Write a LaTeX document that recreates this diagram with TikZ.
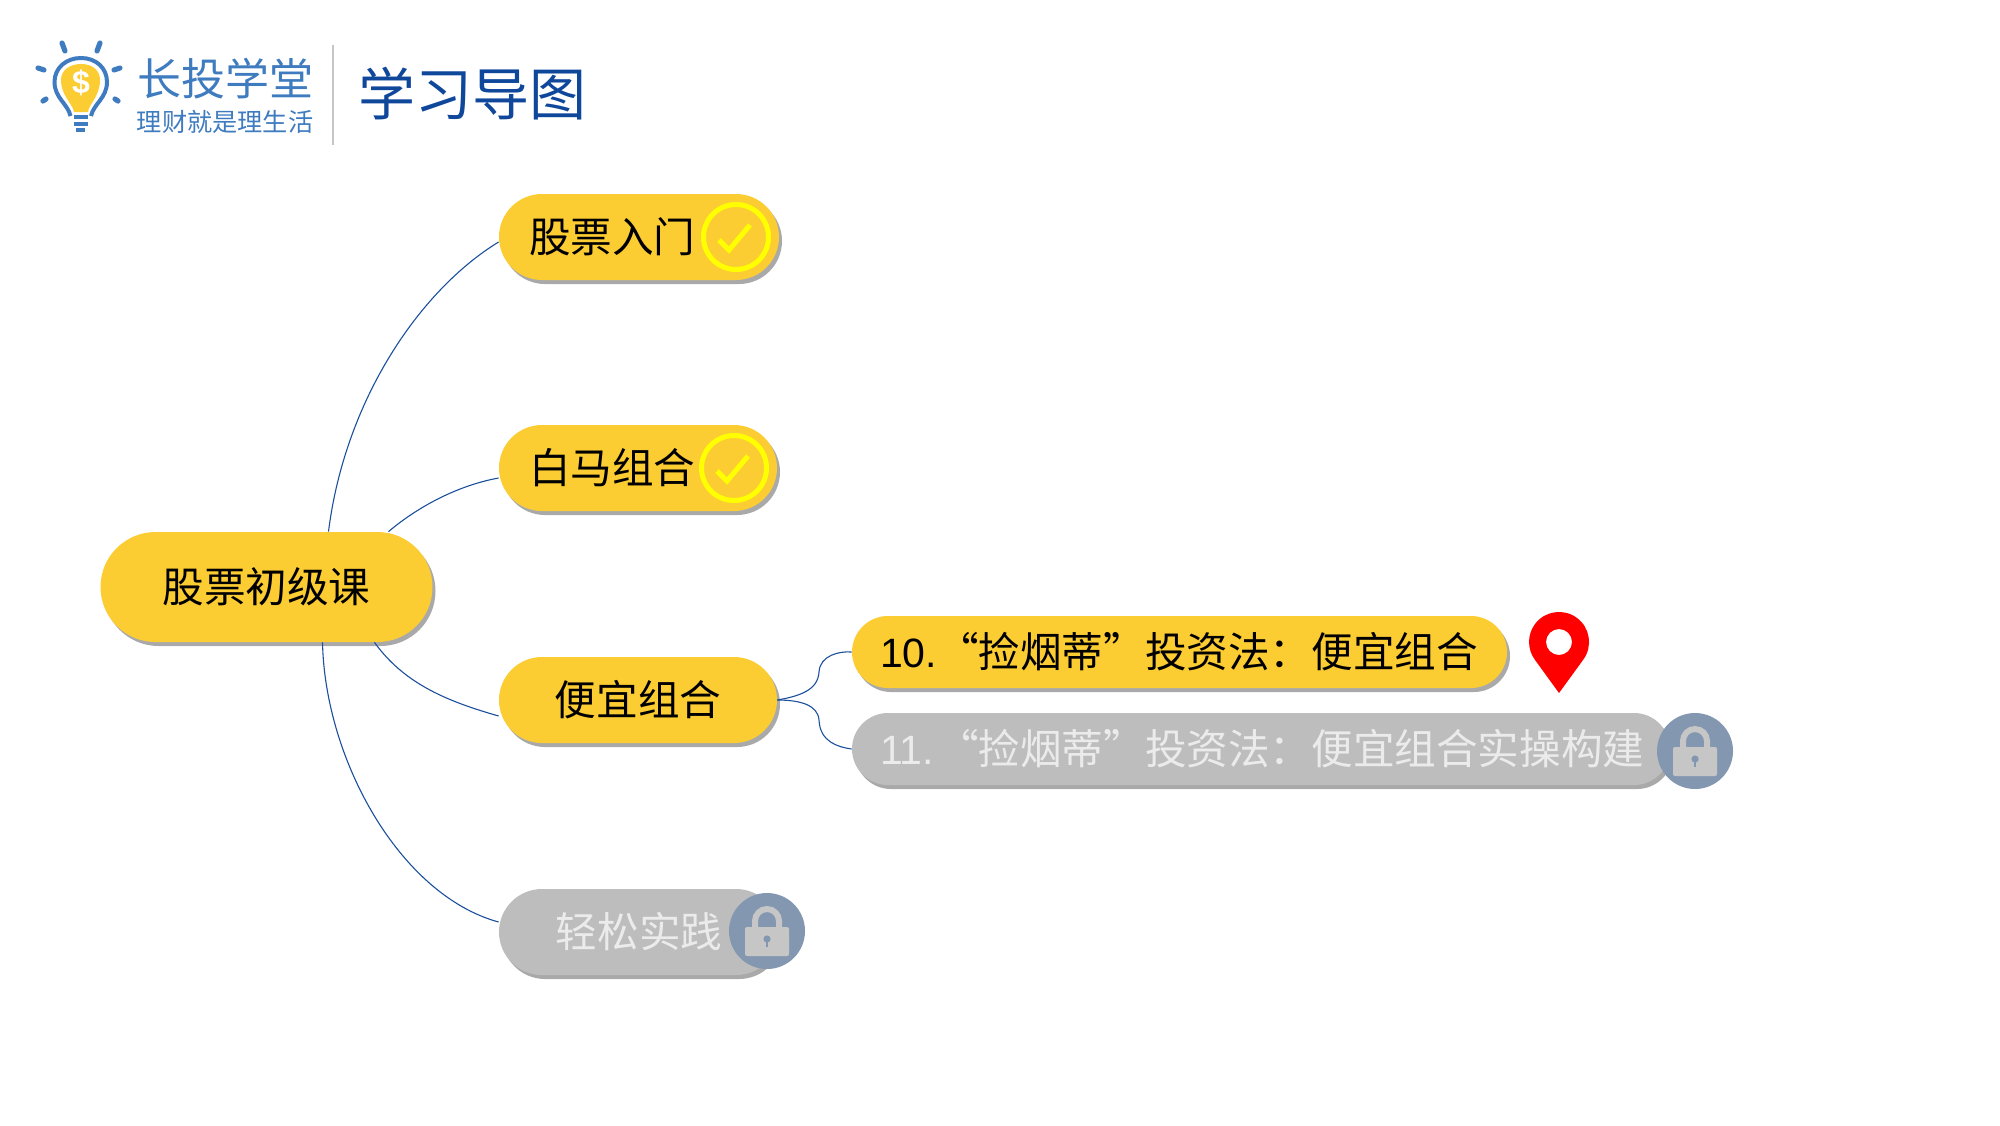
\documentclass[tikz,border=0pt]{standalone}
\usepackage{fontspec}
\setmainfont{Noto Sans CJK SC}
\newfontfamily\latinfont{Liberation Sans}
\usetikzlibrary{shadows}

\definecolor{pillyellow}{HTML}{FCCC33}
\definecolor{pillgray}{HTML}{BDBDBD}
\definecolor{lockblue}{HTML}{8497B0}
\definecolor{lockgray}{HTML}{C6C6C6}
\definecolor{linkblue}{HTML}{1B4F9C}
\definecolor{titleblue}{HTML}{0F479B}
\definecolor{logoblue}{HTML}{3F7BBF}
\definecolor{markyellow}{HTML}{FFFF00}

\tikzset{
    pill/.style={rectangle, rounded corners=21.5pt, minimum height=43pt, inner xsep=15pt,
        inner ysep=0pt, font=\fontsize{20.8}{24}\selectfont,
        drop shadow={shadow xshift=1.5pt, shadow yshift=-2pt, fill=black!80, opacity=0.42}},
    topic/.style={pill, fill=pillyellow, text=black},
    locked/.style={pill, fill=pillgray, text=white!92!black},
    smallpill/.style={minimum height=36pt, rounded corners=18pt},
    rootpill/.style={minimum height=55pt, rounded corners=27.5pt},
    link/.style={draw=linkblue, line width=0.55pt},
    checkring/.style={circle, draw=markyellow, line width=2.5pt, minimum size=32.5pt, inner sep=0pt},
    lockdisc/.style={circle, fill=lockblue, minimum size=38pt, inner sep=0pt},
    logotext/.style={text=logoblue, inner sep=0pt},
    ray/.style={draw=logoblue, line width=2.6pt, line cap=round},
    tickmark/.pic={
        \draw[markyellow, line width=2.5pt] (-17,3) -- (-7,13) -- (14,-12);
    },
    padlock/.pic={
        \draw[lockgray, line width=3pt] (-12,-3) -- (-12,-10) arc (180:360:12) -- (12,-3);
        \fill[lockgray, rounded corners=1pt] (-22,-4) rectangle (22,25);
        \fill[lockblue] (0,8) circle (3.6);
        \fill[lockblue] (-1.2,8) rectangle (1.2,16);
    }
}

\begin{document}
\begin{tikzpicture}[x=0.5pt, y=-0.5pt]
    \useasboundingbox (0,0) rectangle (2000,1125);

    \fill[pillyellow] (74,112) .. controls (73,104) and (61,96) .. (61,80)
        .. controls (61,70) and (70,64) .. (81,64)
        .. controls (92,64) and (100,70) .. (100,80)
        .. controls (100,96) and (89,104) .. (88,112) -- cycle;
    \draw[logoblue, line width=2pt] (70.5,116) .. controls (68,104) and (54.5,98) .. (54.5,82)
        .. controls (54.5,68) and (66,58) .. (81,58)
        .. controls (96,58) and (107,68) .. (107,82)
        .. controls (107,98) and (93.5,104) .. (91,116);
    \node[text=white, inner sep=0pt, font=\latinfont\bfseries\fontsize{16}{18}\selectfont] (dollar) at (81,83) {\$};
    \draw[ray] (62,43) -- (65,51);
    \draw[ray] (100,43) -- (97,51);
    \draw[ray] (38,68) -- (44,70);
    \draw[ray] (120,68) -- (114,70);
    \draw[ray] (43,101) -- (46,99);
    \draw[ray] (118,101) -- (115,99);
    \draw[logoblue, line width=1.6pt] (74,117) -- (88,117);
    \draw[logoblue, line width=1.6pt] (74,124) -- (88,124);
    \draw[logoblue, line width=1.6pt] (76,130) -- (85,130);
    \node[logotext, font=\fontsize{22}{25}\selectfont] (brand) at (225,79) {长投学堂};
    \node[logotext, font=\fontsize{12.6}{15}\selectfont] (slogan) at (225,122) {理财就是理生活};
    \draw[lockgray, line width=0.6pt] (333,45) -- (333,145);
    \node[text=titleblue, inner sep=0pt, font=\fontsize{28.5}{31}\selectfont] (title) at (472,94) {学习导图};

    \node[topic, rootpill, minimum width=166pt] (root) at (266.5,587) {股票初级课};
    \node[topic, minimum width=140pt, text width=110pt, align=left] (intro) at (639,237) {股票入门};
    \node[topic, minimum width=139pt, text width=109pt, align=left] (white-horse) at (638,468) {白马组合};
    \node[topic, minimum width=139pt] (cheap-combo) at (638,700) {便宜组合};
    \node[locked, minimum width=140pt] (practice) at (639,932) {轻松实践};
    \node[topic, smallpill, minimum width=327.5pt, inner xsep=14pt, text width=299.5pt, align=left] (lesson-ten) at (1179.5,652)
        {\mbox{{\latinfont\fontsize{20.5}{24}\selectfont 10.}“捡烟蒂”投资法：便宜组合}};
    \node[locked, smallpill, minimum width=409pt, inner xsep=14pt, text width=381pt, align=left] (lesson-eleven) at (1261,749)
        {\mbox{{\latinfont\fontsize{20.5}{24}\selectfont 11.}\hspace{1.6pt}“捡烟蒂”投资法：便宜组合实操构建}};

    \node[checkring] (intro-check) at (736,237) {};
    \node[checkring] (white-horse-check) at (734,468) {};
    \pic at (intro-check) {tickmark};
    \pic at (white-horse-check) {tickmark};
    \node[lockdisc] (practice-lock) at (767,931) {};
    \node[lockdisc] (lesson-lock) at (1695,751) {};
    \pic at (practice-lock) {padlock};
    \pic at (lesson-lock) {padlock};

    \fill[red, even odd rule] (1559,693) -- (1583.3,659.6) arc (36:-216:30) -- cycle
        (1559,642) circle (13);

    \draw[link] ([xshift=31pt]root.north) .. controls (345,400) and (420,290) .. ([yshift=-2.5pt]intro.west);
    \draw[link] ([xshift=61pt]root.north) .. controls (420,505) and (460,485) .. ([yshift=-5pt]white-horse.west);
    \draw[link] ([xshift=54pt]root.south) .. controls (405,685) and (450,702) .. ([yshift=-8pt]cheap-combo.west);
    \draw[link] ([xshift=28pt]root.south) .. controls (325,760) and (400,895) .. ([yshift=5pt]practice.west);
    \draw[link] (cheap-combo.east) .. controls (800,696) and (818,690) .. (819,672)
        .. controls (820,655) and (840,651) .. (lesson-ten.west);
    \draw[link] (cheap-combo.east) .. controls (800,700) and (818,705) .. (819,720)
        .. controls (820,742) and (838,747) .. (lesson-eleven.west);
\end{tikzpicture}
\end{document}
